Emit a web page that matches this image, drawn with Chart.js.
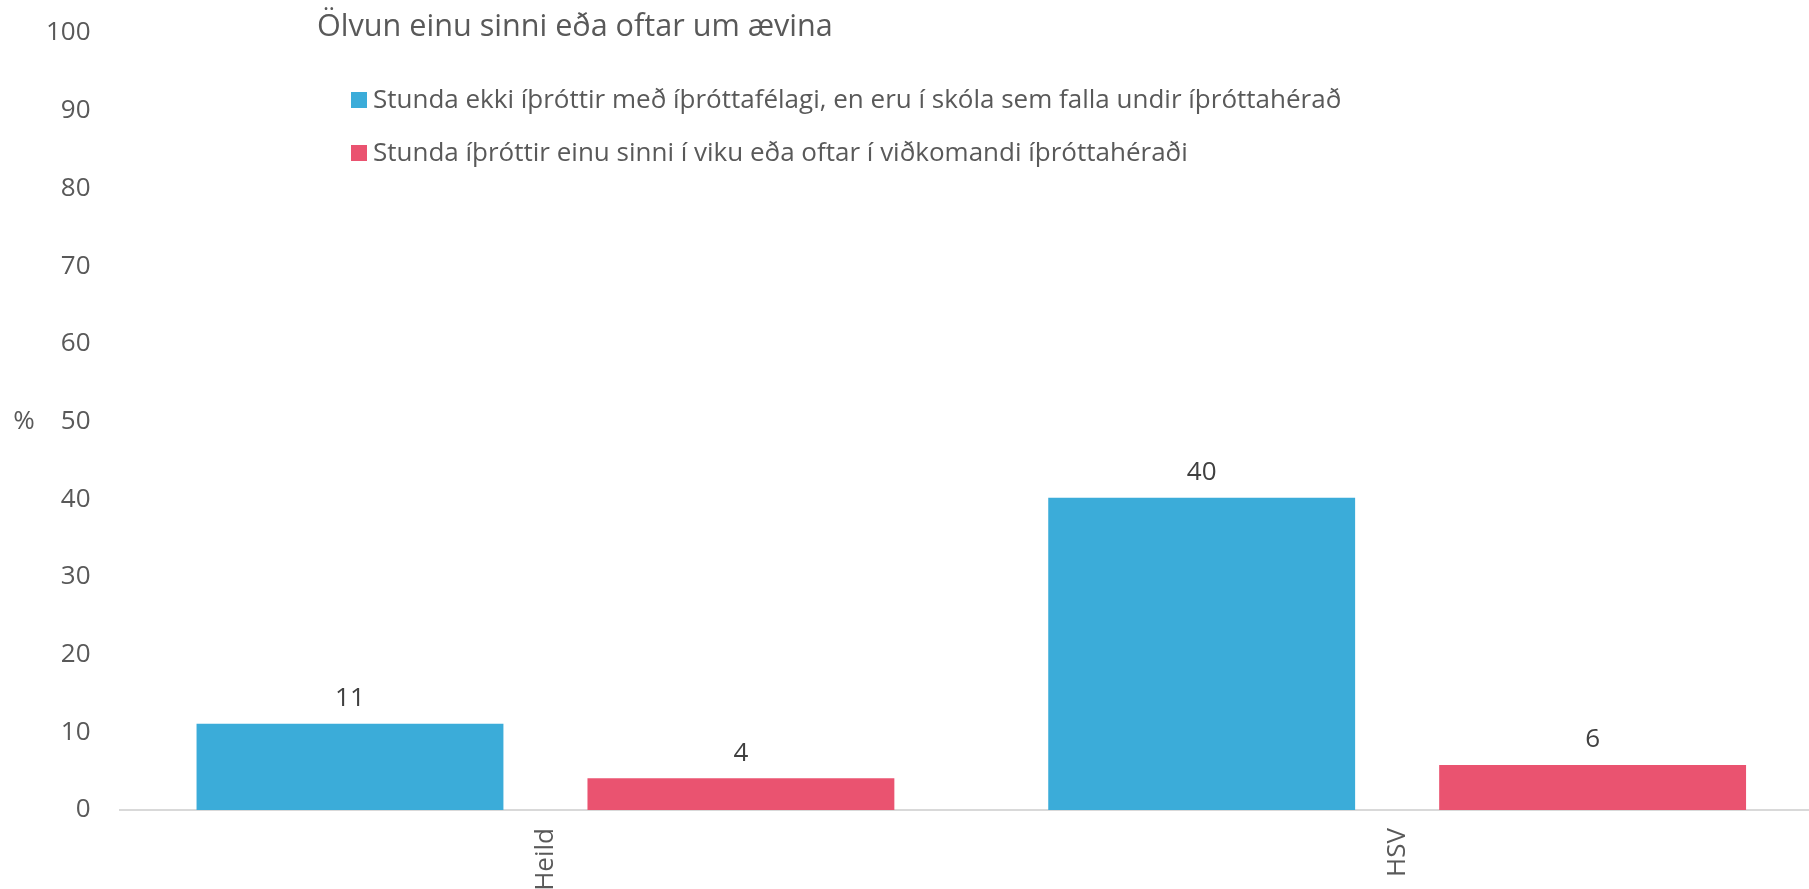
<!DOCTYPE html>
<html lang="is">
<head>
<meta charset="utf-8">
<title>Ölvun einu sinni eða oftar um ævina</title>
<script src="https://cdn.jsdelivr.net/npm/chart.js@4.4.1/dist/chart.umd.min.js"></script>
<style>
  html, body { margin: 0; padding: 0; background: #fff; overflow: hidden; }
  body { width: 1809px; height: 889px; }
  #wrap { position: relative; width: 1830px; height: 889px; }
</style>
</head>
<body>
<div id="wrap"><canvas id="chart"></canvas></div>
<script>
    // data
    const categories = ['Heild', 'HSV'];
    const seriesNames = [
        'Stunda ekki íþróttir með íþróttafélagi, en eru í skóla sem falla undir íþróttahérað',
        'Stunda íþróttir einu sinni í viku eða oftar í viðkomandi íþróttahéraði'
    ];
    const notInClub = [11.1, 40.2];
    const inClub = [4.1, 5.8];
    const seriesColors = ['#3BACD9', '#EA5370'];
    const chartTitle = 'Ölvun einu sinni eða oftar um ævina';
    const yUnit = '%';

    const FONT = "'Open Sans', sans-serif";
    const GRAY = '#595959';

    // title, legend, unit label and bar value labels
    const overlay = {
        id: 'overlay',
        afterDatasetsDraw(chart, args, opts) {
            const ctx = chart.ctx;
            ctx.save();
            ctx.textBaseline = 'middle';

            ctx.fillStyle = GRAY;
            ctx.font = `30.6px ${FONT}`;
            ctx.textAlign = 'left';
            ctx.fillText(opts.title, opts.titleX, opts.titleY);

            ctx.font = `26px ${FONT}`;
            chart.data.datasets.forEach((ds, i) => {
                const y = opts.legendY + i * opts.legendGap;
                ctx.fillStyle = ds.backgroundColor;
                ctx.fillRect(opts.legendX, y - 8, 16, 16);
                ctx.fillStyle = GRAY;
                ctx.fillText(ds.label, opts.legendX + 22, y + 1);
            });

            ctx.textAlign = 'center';
            const ys = chart.scales.y;
            ctx.fillText(opts.unit, 24, (ys.top + ys.bottom) / 2);

            ctx.fillStyle = '#404040';
            ctx.textBaseline = 'bottom';
            chart.data.datasets.forEach((ds, i) => {
                chart.getDatasetMeta(i).data.forEach((bar, j) => {
                    ctx.fillText(Math.round(ds.data[j]).toString(), bar.x, bar.y - 12);
                });
            });
            ctx.restore();
        }
    };

    new Chart(document.getElementById('chart'), {
        type: 'bar',
        data: {
            labels: categories,
            datasets: [
                { label: seriesNames[0], data: notInClub, backgroundColor: seriesColors[0] },
                { label: seriesNames[1], data: inClub, backgroundColor: seriesColors[1] },
            ]
        },
        plugins: [overlay],
        options: {
            responsive: true,
            maintainAspectRatio: false,
            animation: false,
            layout: { padding: { left: 17, right: 7, top: 33, bottom: 0 } },
            datasets: {
                bar: { categoryPercentage: 0.918, barPercentage: 0.785 }
            },
            plugins: {
                legend: { display: false },
                title: { display: false },
                tooltip: { enabled: false },
                overlay: {
                    title: chartTitle, titleX: 317, titleY: 27,
                    legendX: 351, legendY: 100, legendGap: 53,
                    unit: yUnit,
                }
            },
            scales: {
                x: {
                    grid: { display: false, drawTicks: false },
                    border: { display: true, color: '#D9D9D9', width: 2 },
                    ticks: {
                        color: GRAY, font: { family: FONT, size: 26 },
                        minRotation: 90, maxRotation: 90, padding: 18
                    },
                    afterFit: (scale) => { scale.height = 79; }
                },
                y: {
                    min: 0,
                    max: 100,
                    grid: { display: false, drawTicks: false },
                    border: { display: false },
                    ticks: {
                        stepSize: 10, color: GRAY,
                        font: { family: FONT, size: 26 }, padding: 29
                    },
                    afterFit: (scale) => { scale.paddingTop = 0; scale.paddingBottom = 0; }
                }
            }
        }
    });
</script>
</body>
</html>
